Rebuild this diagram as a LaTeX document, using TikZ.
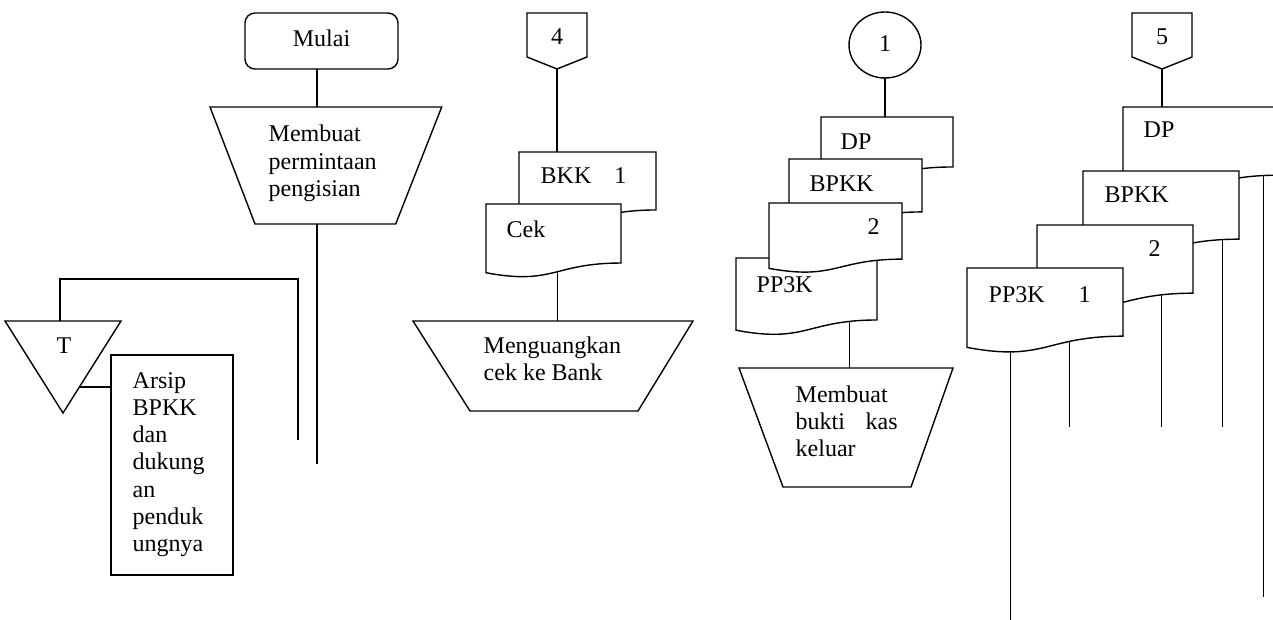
\documentclass[tikz,border=0pt]{standalone}
\usepackage{fontspec}
\setmainfont{Liberation Serif}
\usetikzlibrary{shapes.geometric,calc,backgrounds}

\tikzset{
  shp/.style={draw, fill=white},
  boxnode/.style={inner sep=0pt, outer sep=0pt},
  lbl/.style={inner sep=0pt, anchor=base west, font=\fontsize{24pt}{27.3pt}\selectfont},
  clbl/.style={inner sep=0pt, anchor=base, font=\fontsize{24pt}{27.3pt}\selectfont},
  % document symbol with a wavy bottom edge; width #1, height #2
  pics/docu/.style n args={2}{code={
    \draw[shp] (0,0) -- (#1,0) -- (#1,{0.802*#2})
      .. controls ({0.5*#1},{0.802*#2}) and ({0.5*#1},{1.107*#2})
      .. (0,{0.934*#2}) -- cycle;
    \node[boxnode, minimum width=#1, minimum height={0.8*#2}, anchor=north west] (-body) at (0,0) {};
  }},
  % off-page connector, placed by its top centre
  pics/offpage/.style={code={
    \draw[shp] (-30,0) -- (30,0) -- (30,44) -- (0,56) -- (-30,44) -- cycle;
    \node[clbl] (-lbl) at (0,32) {#1};
    \coordinate (-tip) at (0,56);
  }},
}

\begin{document}
\begin{tikzpicture}[x=1pt, y=-1pt, line width=1.4pt, line join=miter]
\useasboundingbox (0,0) rectangle (1273,620);

% ---------- column 1 ----------
\node[draw, boxnode, rounded corners=10pt, minimum width=153, minimum height=56] (mulai) at (321.5,41) {};
\node[clbl] (mulai-t) at (mulai.center |- 0,47) {Mulai};

\node[boxnode, minimum width=231.7, minimum height=117] (p1) at (325.85,165.5) {};
\draw[shp] (p1.north west) -- (p1.north east) -- ([xshift=-46pt]p1.south east)
  -- ([xshift=45pt]p1.south west) -- cycle;
\node[lbl] (p1-t) at (268,142) {\parbox[t]{160pt}{Membuat\\permintaan\\pengisian}};

\node[boxnode, minimum width=116, minimum height=92] (tri) at (63,367) {};
\draw[shp] (tri.north west) -- (tri.north east) -- (tri.south) -- cycle;
\node[clbl] (tri-t) at (64,353) {T};

\node[draw, boxnode, minimum width=122, minimum height=220] (arsip) at (172,465) {};
\node[lbl] (arsip-t) at (132,388)
  {\parbox[t]{100pt}{Arsip\\BPKK\\dan\\dukung\\an\\penduk\\ungnya}};

\coordinate (e-main) at (317,464);
\coordinate (e-loop) at (298,440);
\coordinate (tri-r) at ($(tri.north east)!0.717!(tri.south)$);

\draw (mulai.south -| e-main) -- (p1.north -| e-main);
\draw (p1.south -| e-main) -- (e-main);
\draw ([xshift=55pt]tri.north west) -- ++(0,-42) -| (e-loop);
\draw (tri-r) -- (tri-r -| arsip.west);

% ---------- column 2 ----------
\pic (c4) at (557,13) {offpage=4};
\pic (bkk) at (519,152) {docu={137}{72.3}};
\pic (cek) at (486,204) {docu={135}{73.6}};
\node[lbl] (bkk-t) at (540,184) {BKK\hspace{23pt}1};
\node[lbl] (cek-t) at (506,237) {Cek};

\node[boxnode, minimum width=280, minimum height=90] (p2) at (553,366) {};
\draw[shp] (p2.north west) -- (p2.north east) -- ([xshift=-55pt]p2.south east)
  -- ([xshift=57pt]p2.south west) -- cycle;
\node[lbl] (p2-t) at (483,353) {\parbox[t]{200pt}{Menguangkan\\cek ke Bank}};

\draw (c4-tip) -- (c4-tip |- bkk-body.north);

% ---------- column 3 ----------
\node[draw, ellipse, boxnode, minimum width=72, minimum height=66] (c1) at (885,45) {};
\node[clbl] (c1-t) at (c1.center |- 0,52) {1};
\pic (dp3) at (821,117) {docu={132}{62.3}};
\pic (bpkk3) at (789,159) {docu={133}{66}};
\pic (pp3k3) at (736,258) {docu={141}{77.3}};
\pic (two3) at (769,203) {docu={133}{70}};
\node[lbl] (dp3-t) at (840,150) {DP};
\node[lbl] (bpkk3-t) at (809,192) {BPKK};
\node[lbl] (two3-t) at (867,235) {2};
\node[lbl] (pp3k3-t) at (756,292) {PP3K};

\node[boxnode, minimum width=214, minimum height=119] (p3) at (846,427.5) {};
\draw[shp] (p3.north west) -- (p3.north east) -- ([xshift=-42pt]p3.south east)
  -- ([xshift=44pt]p3.south west) -- cycle;
\node[lbl] (p3-t) at (795,402)
  {\parbox[t]{150pt}{Membuat\\\hbox to 102pt{bukti\hfil kas}\\keluar}};
\coordinate (p3-in) at (849,368);

\draw (c1.south) -- (c1.south |- dp3-body.north);

% ---------- column 4 ----------
\pic (c5) at (1162,13) {offpage=5};
\pic (dp4) at (1123,107) {docu={156}{85}};
\pic (bpkk4) at (1083,171) {docu={156}{85}};
\pic (two4) at (1037,225) {docu={156}{85}};
\pic (pp3k4) at (967,268) {docu={156}{85}};
\node[lbl] (dp4-t) at (1143,138) {DP};
\node[lbl] (bpkk4-t) at (1104,203) {BPKK};
\node[lbl] (two4-t) at (1148,257) {2};
\node[lbl] (pp3k4-t) at (988,302) {PP3K\hspace{34pt}1};

\coordinate (e1) at (1010,620);
\coordinate (e2) at (1069,427);
\coordinate (e3) at (1161,427);
\coordinate (e4) at (1222,427);
\coordinate (e5) at (1263,597);

\draw (c5-tip) -- (c5-tip |- dp4-body.north);

% flow lines leaving the wavy document edges sit behind the documents
\begin{scope}[on background layer]
  \draw (c4-tip |- cek-body.center) -- (c4-tip |- p2.north);
  \draw (p3-in |- pp3k3-body.center) -- (p3-in);
  \draw (pp3k4-body.center -| e1) -- (e1);
  \draw (pp3k4-body.center -| e2) -- (e2);
  \draw (two4-body.center -| e3) -- (e3);
  \draw (bpkk4-body.center -| e4) -- (e4);
  \draw (dp4-body.center -| e5) -- (e5);
\end{scope}
\end{tikzpicture}
\end{document}
